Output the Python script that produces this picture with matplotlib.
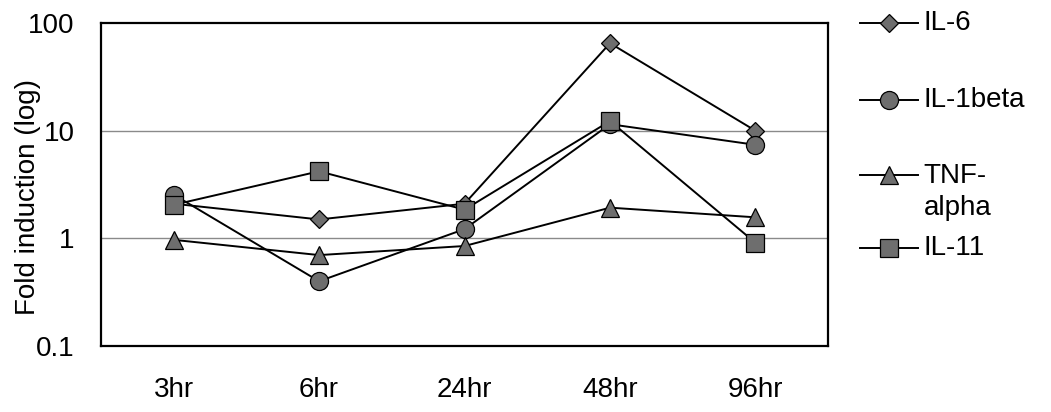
import numpy as np
import matplotlib.pyplot as plt
import matplotlib.lines as mlines

plt.rcParams['font.family'] = ['Liberation Sans', 'DejaVu Sans']

# %% Data

timepoints = ['3hr', '6hr', '24hr', '48hr', '96hr']
il6 = [2.1, 1.5, 2.1, 65, 10]
il1beta = [2.55, 0.4, 1.22, 11.5, 7.4]
tnf_alpha = [0.97, 0.7, 0.85, 1.93, 1.57]
il11 = [2.05, 4.2, 1.85, 12.3, 0.91]

series_names = ['IL-6', 'IL-1beta', 'TNF-\nalpha', 'IL-11']
series_values = [il6, il1beta, tnf_alpha, il11]
series_markers = ['D', 'o', '^', 's']
series_msize = [9.5, 13, 13, 13]

y_ticks = [0.1, 1, 10, 100]
y_ticklabels = ['0.1', '1', '10', '100']

# %% Plot

fig = plt.figure(figsize=(10.51, 4.12), dpi=100)
ax = fig.add_axes([0.096, 0.160, 0.692, 0.784])

x = np.arange(len(timepoints))
face = '#6e6e6e'

for vals, mk, ms in zip(series_values, series_markers, series_msize):
    ax.plot(x, vals, color='black', lw=1.4, marker=mk, markersize=ms,
            markerfacecolor=face, markeredgecolor='black', markeredgewidth=0.9,
            zorder=3)

ax.set_yscale('log')
ax.set_ylim(0.1, 100)
ax.set_xlim(-0.5, len(timepoints) - 0.5)
ax.set_yticks(y_ticks)
ax.set_yticklabels(y_ticklabels)
ax.yaxis.set_minor_locator(plt.NullLocator())
ax.set_xticks(x)
ax.set_xticklabels(timepoints)
ax.tick_params(axis='both', length=0, labelsize=20)
ax.tick_params(axis='y', pad=19)
ax.tick_params(axis='x', pad=22)

for g in [1, 10]:
    ax.axhline(g, color='#8a8a8a', lw=1.0, zorder=1)

for sp in ax.spines.values():
    sp.set_linewidth(1.6)
    sp.set_color('black')

ax.set_ylabel('Fold induction (log)', fontsize=20)
ax.yaxis.set_label_coords(-0.083, 0.46)

# %% Legend (hand placed, like the original)

leg_y = [0.944, 0.757, 0.575, 0.398]
for name, mk, ms, yy in zip(series_names, series_markers, series_msize, leg_y):
    h = mlines.Line2D([0.818, 0.873], [yy, yy], transform=fig.transFigure,
                      color='black', lw=1.4)
    m = mlines.Line2D([0.8455], [yy], transform=fig.transFigure,
                      marker=mk, markersize=ms, markerfacecolor=face,
                      markeredgecolor='black', markeredgewidth=0.9, lw=0)
    fig.add_artist(h)
    fig.add_artist(m)
    if '\n' in name:
        fig.text(0.879, yy + 0.03, name, fontsize=20, va='top', ha='left',
                 linespacing=1.3)
    else:
        fig.text(0.879, yy, name, fontsize=20, va='center', ha='left')

plt.savefig('out.png', dpi=100)
